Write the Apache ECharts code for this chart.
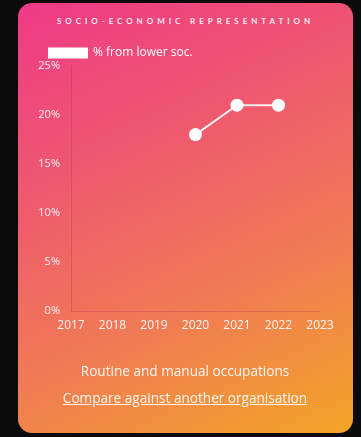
<!DOCTYPE html>
<html>
<head>
<meta charset="utf-8">
<script src="https://cdn.jsdelivr.net/npm/echarts@6/dist/echarts.min.js"></script>
<style>
  html, body { margin: 0; padding: 0; background: #0b0b0b; width: 361px; height: 437px; overflow: hidden; }
  .card {
    position: absolute; left: 18px; top: 3px; width: 335px; height: 430px;
    border-radius: 14px;
    background: linear-gradient(155deg, #ee3a86 0%, #ef5a6e 35%, #f07a55 65%, #f3a527 100%);
  }
  .title {
    position: absolute; left: 57px; top: 16px; white-space: nowrap;
    font-family: Lato, sans-serif; font-weight: 700; font-size: 8px; letter-spacing: 3.95px;
    color: rgba(255,255,255,0.9);
  }
  #chart { position: absolute; left: 0; top: 0; width: 361px; height: 437px; }
  .caption {
    position: absolute; left: 0; width: 370px; text-align: center;
    font-family: "Open Sans", sans-serif; font-size: 13.6px; color: rgba(255,255,255,0.92);
  }
  .link { text-decoration: underline; }
</style>
</head>
<body>
<div class="card"></div>
<div class="title">SOCIO-ECONOMIC REPRESENTATION</div>
<div id="chart"></div>
<div class="caption" style="top:361px;">Routine and manual occupations</div>
<div class="caption link" style="top:388px;">Compare against another organisation</div>
<script>
// Years on the horizontal axis and the share of staff from lower socio-economic backgrounds
const years = ['2017', '2018', '2019', '2020', '2021', '2022', '2023'];
const lowerSocShare = [null, null, null, 18, 21, 21, null];
const seriesName = '% from lower soc.';

const chart = echarts.init(document.getElementById('chart'), null, { renderer: 'canvas' });
chart.setOption({
  animation: false,
  legend: {
    left: 43, top: 42,
    itemWidth: 40, itemHeight: 11, itemGap: 5,
    icon: 'rect',
    data: [{ name: seriesName, icon: 'rect', itemStyle: { color: '#ffffff' } }],
    textStyle: { color: '#ffffff', fontSize: 12, fontFamily: 'Open Sans' }
  },
  grid: { left: 71, right: 41, top: 66, bottom: 126, containLabel: false },
  xAxis: {
    type: 'category', data: years, boundaryGap: false,
    axisLine: { show: true, lineStyle: { color: 'rgba(150,30,60,0.25)' } },
    axisTick: { show: false },
    axisLabel: { color: 'rgba(255,255,255,0.92)', fontSize: 12, fontFamily: 'Open Sans', margin: 9 },
    splitLine: { show: false }
  },
  yAxis: {
    type: 'value', min: 0, max: 25, interval: 5,
    axisLine: { show: true, lineStyle: { color: 'rgba(150,30,60,0.25)' } },
    axisTick: { show: false },
    axisLabel: { color: 'rgba(255,255,255,0.92)', fontSize: 11, fontFamily: 'Open Sans', margin: 11, formatter: '{value}%' },
    splitLine: { show: false }
  },
  series: [{
    name: seriesName, type: 'line', data: lowerSocShare,
    symbol: 'circle', symbolSize: 13,
    lineStyle: { color: 'rgba(255,255,255,0.9)', width: 2 },
    itemStyle: { color: '#ffffff' }
  }]
});
</script>
</body>
</html>
